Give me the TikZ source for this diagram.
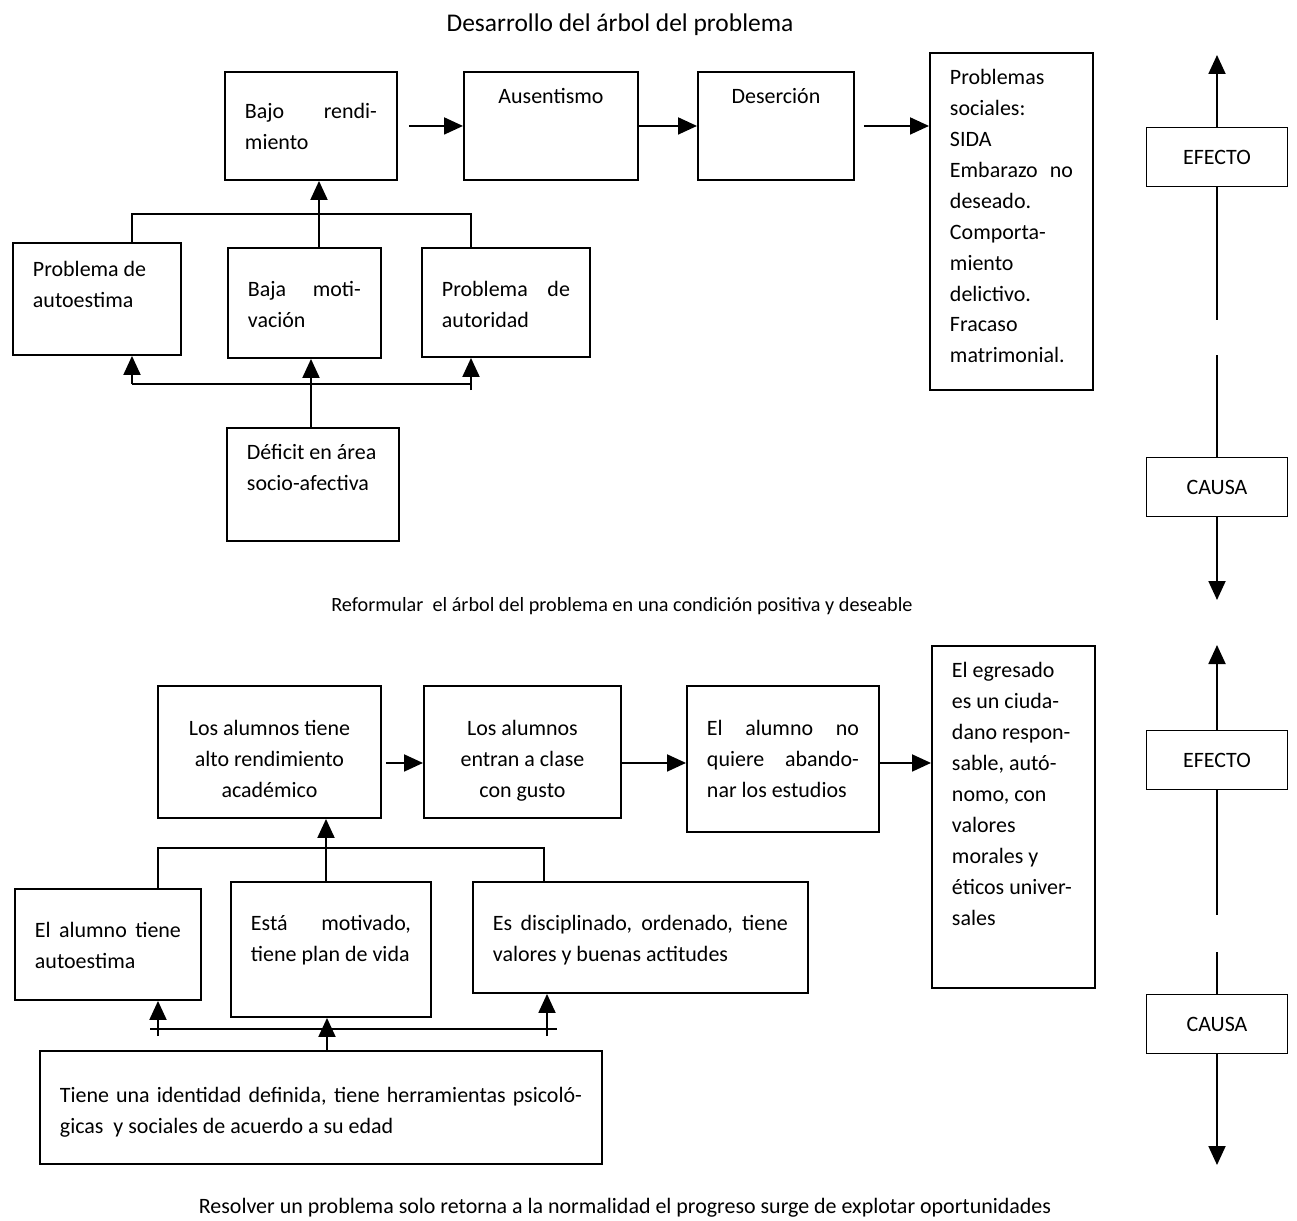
\documentclass[tikz,border=0pt]{standalone}
\usepackage{fontspec}
\setmainfont{Carlito}
\usetikzlibrary{arrows.meta,calc}

\newlength{\px}
\setlength{\px}{0.02cm}
% caja: nombre, x, y (esquina sup. izq.), ancho, alto, margen sup., alineacion, texto
\newcommand{\caja}[8]{%
  \node[caja] (#1) at (#2,#3) {\parbox[c][#5\px][t]{\dimexpr#4\px-40\px\relax}{#7\vspace*{#6\px}\strut#8}};}
\newcommand{\jl}[1]{\makebox[\linewidth][s]{#1}}

\begin{document}
\begin{tikzpicture}[x=0.02cm, y=-0.02cm,
  caja/.style={draw, line width=1.1pt, inner xsep=0.4cm, inner ysep=0pt, anchor=north west, font=\fontsize{12.5}{17.6}\selectfont},
  rotulo/.style={draw, line width=1.1pt, minimum width=2.82cm, minimum height=1.18cm, inner sep=0pt, font=\fontsize{12.5}{15}\selectfont},
  linea/.style={line width=1.1pt},
  flecha/.style={line width=1.1pt, -{Triangle[length=0.38cm, width=0.34cm]}},
]
\useasboundingbox (0,0) rectangle (1297,1220);

% Arbol del problema
\node[font=\fontsize{14.5}{17}\selectfont] (titulo) at (620,25) {Desarrollo del árbol del problema};

\caja{br}{224}{71}{172}{108}{25}{\raggedright}{\jl{Bajo rendi-}\\miento}
\caja{aus}{463}{71}{174}{108}{10}{\centering}{Ausentismo}
\caja{des}{697}{71}{156}{108}{10}{\centering}{Deserción}
\caja{soc}{929}{52}{163}{337}{10}{\raggedright}{Problemas\\sociales:\\SIDA\\\jl{Embarazo no}\\deseado.\\Comporta-\\miento\\delictivo.\\Fracaso\\matrimonial.}
\caja{aut}{12}{242}{168}{112}{12}{\raggedright}{Problema de\\autoestima}
\caja{mot}{227}{247}{153}{110}{27}{\raggedright}{\jl{Baja moti-}\\vación}
\caja{ati}{421}{247}{168}{109}{27}{\raggedright}{\jl{Problema de}\\autoridad}
\caja{def}{226}{427}{172}{113}{10}{\raggedright}{\mbox{Déficit en área}\\socio-afectiva}

% efectos
\draw[flecha] ([xshift=0.22cm]br.east) -- (aus.west);
\draw[flecha] (aus.east) -- (des.west);
\draw[flecha] ([xshift=0.18cm]des.east) -- (soc.west |- des.east);

% causas hacia arriba
\coordinate (a1) at (132,214);
\coordinate (a2) at (319,214);
\coordinate (a3) at (471,214);
\draw[linea] (aut.north -| a1) -- (a1) -- (a3) -- (ati.north -| a3);
\draw[flecha] (mot.north -| a2) -- (br.south -| a2);
\coordinate (b1) at (132,384);
\coordinate (b2) at (311,384);
\coordinate (b3) at (471,384);
\draw[linea] (b1) -- (b3);
\draw[flecha] (b1) -- (aut.south -| b1);
\draw[flecha] ([yshift=-0.12cm]b3) -- (ati.south -| b3);
\draw[flecha] (def.north -| b2) -- (mot.south -| b2);

% eje efecto / causa
\node[rotulo] (efe1) at (1217,157) {EFECTO};
\node[rotulo] (cau1) at (1217,487) {CAUSA};
\coordinate (e1) at (1217,55);
\coordinate (e2) at (1217,600);
\coordinate (g1) at (1217,320);
\coordinate (g2) at (1217,355);
\draw[flecha] (efe1.north) -- (e1);
\draw[linea] (efe1.south) -- (g1);
\draw[linea] (g2) -- (cau1.north);
\draw[flecha] (cau1.south) -- (e2);

\node[font=\fontsize{11.5}{14}\selectfont] (reform) at (622,606) {Reformular\ \ el árbol del problema en una condición positiva y deseable};

% Arbol de objetivos
\caja{alt}{157}{685}{223}{132}{28}{\centering}{Los alumnos tiene\\alto rendimiento\\académico}
\caja{ent}{423}{685}{197}{132}{28}{\centering}{Los alumnos\\entran a clase\\con gusto}
\caja{aba}{686}{685}{192}{146}{28}{\raggedright}{\jl{El alumno no}\\\jl{quiere abando-}\\nar los estudios}
\caja{egr}{931}{645}{163}{342}{10}{\raggedright}{El egresado\\es un ciuda-\\\mbox{dano respon-}\\sable, autó-\\nomo, con\\valores\\morales y\\\mbox{éticos univer-}\\sales}
\caja{tau}{14}{888}{186}{111}{27}{\raggedright}{\jl{El alumno tiene}\\autoestima}
\caja{est}{230}{881}{200}{135}{27}{\raggedright}{\jl{Está motivado,}\\\mbox{tiene plan de vida}}
\caja{dis}{472}{881}{335}{111}{27}{\raggedright}{\jl{Es disciplinado, ordenado, tiene}\\valores y buenas actitudes}
\caja{tie}{39}{1050}{562}{113}{30}{\raggedright}{\jl{Tiene una identidad definida, tiene herramientas psicoló-}\\gicas\ \ y sociales de acuerdo a su edad}

% fines
\draw[flecha] ($(alt.east)+(4,11)$) -- ($(ent.west)+(0,11)$);
\draw[flecha] ($(ent.east)+(0,11)$) -- ($(aba.west)+(0,4)$);
\draw[flecha] ($(aba.east)+(0,4)$) -- ($(aba.east -| egr.west)+(0,4)$);

% medios hacia arriba
\coordinate (d1) at (158,848);
\coordinate (d2) at (326,848);
\coordinate (d3) at (544,848);
\draw[linea] (tau.north -| d1) -- (d1) -- (d3) -- (dis.north -| d3);
\draw[flecha] (est.north -| d2) -- (alt.south -| d2);
\coordinate (f0) at (150,1029);
\coordinate (f1) at (158,1036);
\coordinate (f2) at (327,1029);
\coordinate (f3) at (547,1036);
\coordinate (f4) at (557,1029);
\draw[linea] (f0) -- (f4);
\draw[flecha] (f1) -- (tau.south -| f1);
\draw[flecha] (f3) -- (dis.south -| f3);
\draw[flecha] (tie.north -| f2) -- (est.south -| f2);

% eje efecto / causa
\node[rotulo] (efe2) at (1217,760) {EFECTO};
\node[rotulo] (cau2) at (1217,1024) {CAUSA};
\coordinate (h1) at (1217,645);
\coordinate (h2) at (1217,1165);
\coordinate (k1) at (1217,915);
\coordinate (k2) at (1217,952);
\draw[flecha] (efe2.north) -- (h1);
\draw[linea] (efe2.south) -- (k1);
\draw[linea] (k2) -- (cau2.north);
\draw[flecha] (cau2.south) -- (h2);

\node[font=\fontsize{12.5}{15}\selectfont] (nota) at (625,1208) {Resolver un problema solo retorna a la normalidad el progreso surge de explotar oportunidades};
\end{tikzpicture}
\end{document}
